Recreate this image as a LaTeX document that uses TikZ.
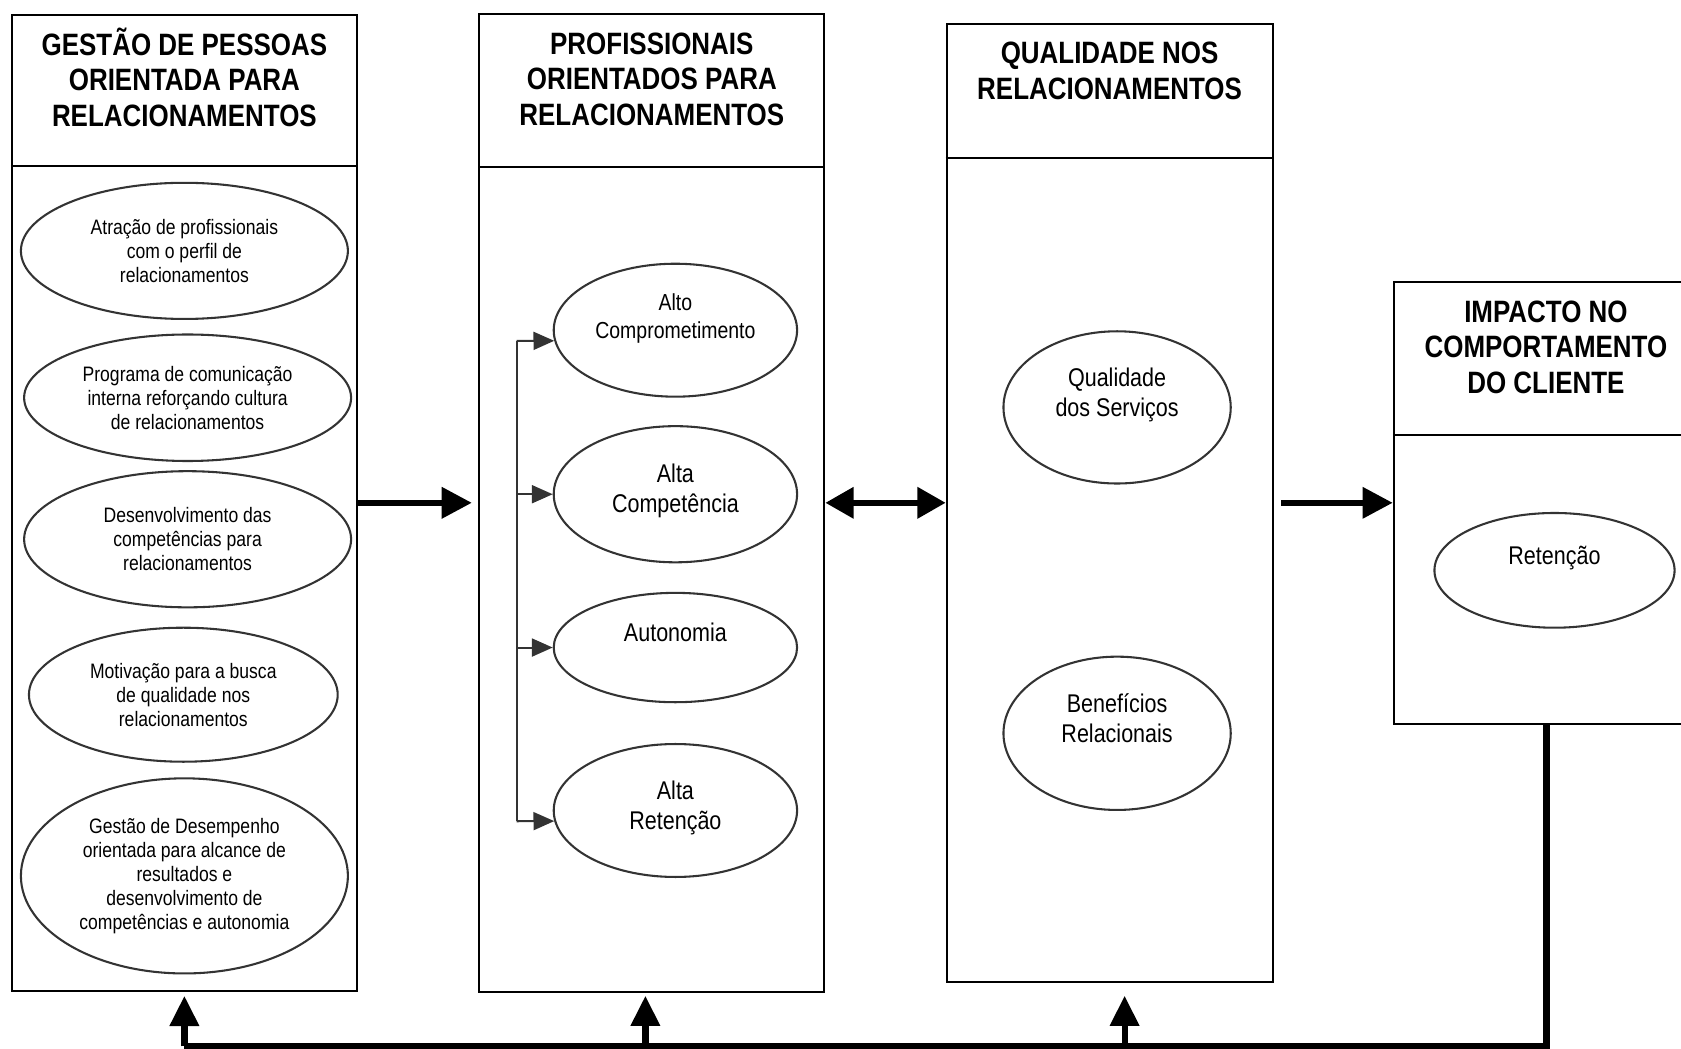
\documentclass[tikz,border=0pt]{standalone}
\usepackage{fontspec}
\setmainfont{Liberation Sans}[FakeStretch=0.84]
\usetikzlibrary{arrows.meta,shapes.geometric,calc}

\newlength\unitpx
\setlength\unitpx{0.02cm}

\tikzset{
  panel/.style={draw=black, line width=1pt, rectangle, inner sep=0pt},
  panelline/.style={draw=black, line width=1pt},
  paneltitle/.style={align=center, inner sep=0pt, font=\bfseries\fontsize{16.4}{18.7}\selectfont},
  oval/.style={draw=black!80, line width=1.1pt, ellipse, inner sep=0pt, align=center},
  smalltext/.style={font=\fontsize{11.1}{12.8}\selectfont},
  midtext/.style={font=\fontsize{13.6}{15.9}\selectfont},
  branch/.style={draw=black!80, line width=1.1pt},
  brancharrow/.style={branch, -{Triangle[length=11pt,width=9.5pt]}},
  bigarrow/.style={line width=3.3pt, -{Triangle[length=16pt,width=16pt]}},
  bothways/.style={line width=3.3pt, {Triangle[length=15pt,width=16pt]}-{Triangle[length=15pt,width=16pt]}},
  loopline/.style={line width=3.3pt},
  uparrow/.style={line width=3.3pt, -{Triangle[length=16pt,width=15pt]}}
}

\begin{document}
\begin{tikzpicture}[x=0.02cm, y=-0.02cm]
    \useasboundingbox (0,0) rectangle (1568,978);
    \clip (0,0) rectangle (1568,978);

    % caixas
    \node[panel, minimum width=322\unitpx, minimum height=910\unitpx] (gp) at (172,469) {};
    \node[panel, minimum width=322\unitpx, minimum height=912\unitpx] (po) at (608,469) {};
    \node[panel, minimum width=304\unitpx, minimum height=894\unitpx] (qr) at (1035,469) {};
    \node[panel, minimum width=285\unitpx, minimum height=412\unitpx] (ic) at (1442.5,469) {};

    \draw[panelline] (gp.west |- 0,155) -- (gp.east |- 0,155);
    \draw[panelline] (po.west |- 0,156) -- (po.east |- 0,156);
    \draw[panelline] (qr.west |- 0,147) -- (qr.east |- 0,147);
    \draw[panelline] (ic.west |- 0,406) -- (ic.east |- 0,406);

    % titulos
    \node[paneltitle] (gpt) at (172,72) {GESTÃO DE PESSOAS\\ORIENTADA PARA\\RELACIONAMENTOS};
    \node[paneltitle] (pot) at (608,74) {PROFISSIONAIS\\ORIENTADOS PARA\\RELACIONAMENTOS};
    \node[paneltitle] (qrt) at (1035,66) {QUALIDADE NOS\\RELACIONAMENTOS};
    \node[paneltitle] (ict) at (1442,324) {IMPACTO NO\\COMPORTAMENTO\\DO CLIENTE};

    % gestao de pessoas
    \node[oval, smalltext, minimum width=305\unitpx, minimum height=127\unitpx] (e1) at (172,234)
        {Atração de profissionais\\com o perfil de\\relacionamentos};
    \node[oval, smalltext, minimum width=305\unitpx, minimum height=118\unitpx] (e2) at (175,371)
        {Programa de comunicação\\interna reforçando cultura\\de relacionamentos};
    \node[oval, smalltext, minimum width=305\unitpx, minimum height=127\unitpx] (e3) at (175,503)
        {Desenvolvimento das\\competências para\\relacionamentos};
    \node[oval, smalltext, minimum width=288\unitpx, minimum height=125\unitpx] (e4) at (171,648)
        {Motivação para a busca\\de qualidade nos\\relacionamentos};
    \node[oval, smalltext, minimum width=305\unitpx, minimum height=182\unitpx] (e5) at (172,817)
        {Gestão de Desempenho\\orientada para alcance de\\resultados e\\desenvolvimento de\\competências e autonomia};

    % profissionais
    \node[oval, font=\fontsize{12.3}{14.7}\selectfont, minimum width=227\unitpx, minimum height=124\unitpx] (a1) at (630,308)
        {Alto\\Comprometimento\\~};
    \node[oval, midtext, minimum width=227\unitpx, minimum height=127\unitpx] (a2) at (630,461)
        {Alta\\Competência\\[-10pt]~};
    \node[oval, midtext, minimum width=227\unitpx, minimum height=102\unitpx] (a3) at (630,604)
        {Autonomia\\~};
    \node[oval, midtext, minimum width=227\unitpx, minimum height=124\unitpx] (a4) at (630,756)
        {Alta\\Retenção\\[-10pt]~};

    \coordinate (t1) at (482,318);
    \coordinate (t4) at (482,766);
    \draw[branch] (t1) -- (t4);
    \draw[brancharrow] (t1) -- (a1.185);
    \draw[brancharrow] (a2.west -| t1) -- (a2.west);
    \draw[brancharrow] (a3.west -| t1) -- (a3.west);
    \draw[brancharrow] (t4) -- (a4.185);

    % qualidade
    \node[oval, midtext, minimum width=212\unitpx, minimum height=142\unitpx] (b1) at (1042,380)
        {Qualidade\\dos Serviços\\~};
    \node[oval, midtext, minimum width=212\unitpx, minimum height=143\unitpx] (b2) at (1042,684)
        {Benefícios\\Relacionais\\~};

    % cliente
    \node[oval, midtext, minimum width=224\unitpx, minimum height=107\unitpx] (r1) at (1450,532)
        {Retenção\\~};

    % setas
    \draw[bigarrow, shorten >=3.4pt] (gp.east) -- (po.west);
    \draw[bothways] (po.east) -- (qr.west);
    \draw[bigarrow, shorten <=4pt] (qr.east) -- (ic.west);

    \coordinate (fb) at (0,976);
    \draw[loopline] (ic.south) |- (gp.south |- fb);
    \draw[uparrow, shorten >=2.3pt] (gp.south |- fb) -- (gp.south);
    \draw[uparrow, shorten >=1.7pt] ($(po.south |- fb)+(-6,0)$) -- ($(po.south)+(-6,0)$);
    \draw[uparrow, shorten >=6.8pt] ($(qr.south |- fb)+(14,0)$) -- ($(qr.south)+(14,0)$);

\end{tikzpicture}
\end{document}
